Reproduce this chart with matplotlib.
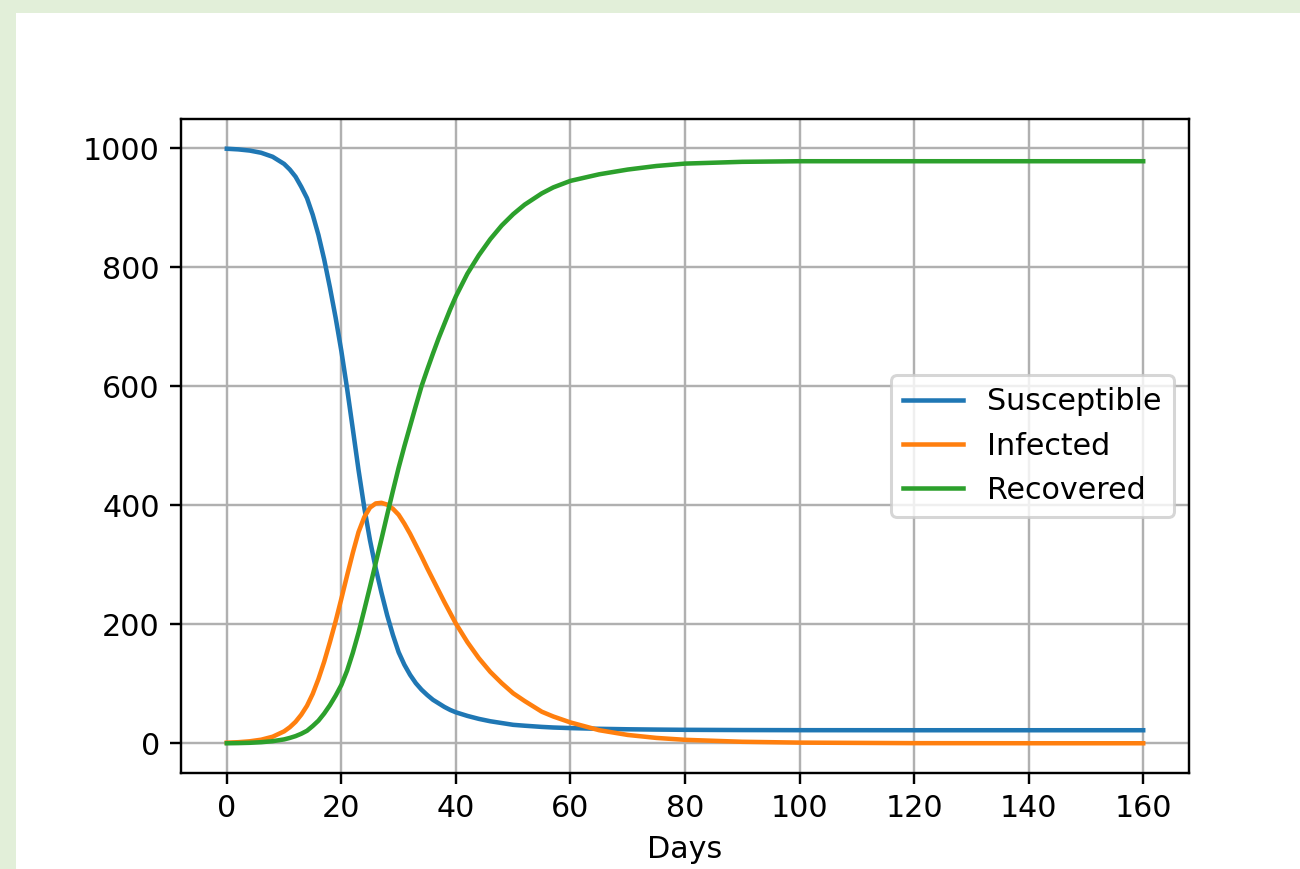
import matplotlib.pyplot as plt
import matplotlib.patches as patches

# Werte (Tage, Personen)
days = [0, 2, 4, 6, 8, 10, 11, 12, 13, 14, 15, 16, 17, 18, 19, 20, 21, 22, 23, 24,
        25, 26, 27, 28, 29, 30, 31, 32, 33, 34, 35, 36, 37, 38, 39, 40, 42, 44, 46,
        48, 50, 52, 55, 57, 60, 65, 70, 75, 80, 90, 100, 120, 140, 160]

susceptible = [999, 997.9, 995.9, 992.2, 985.5, 973.5, 964, 952, 935, 916, 888, 854,
               813, 766, 715, 659, 596, 528, 459, 396, 341, 294, 253, 215, 182, 153,
               132, 115, 101, 90, 81, 73, 67, 61, 56, 52, 46, 41, 37, 34, 31, 29.5,
               27.5, 26.5, 25.5, 24.3, 23.5, 23, 22.6, 22.2, 22, 21.9, 21.9, 21.9]

infected = [1, 1.8, 3.3, 6, 11, 20, 27, 36, 48, 63, 83, 108, 137, 170, 205, 243, 282,
            320, 355, 380, 396, 403, 404, 401, 394, 384, 369, 352, 333, 314, 294, 275,
            256, 237, 219, 201, 170, 143, 120, 101, 84, 71, 53, 45, 35, 22, 14, 9, 5.8,
            2.5, 1.1, 0.2, 0.05, 0.01]

recovered = [0, 0.3, 0.8, 1.8, 3.5, 6.5, 9, 12, 16, 21, 29, 38, 50, 64, 80, 98, 122,
             152, 186, 224, 263, 303, 343, 384, 424, 463, 499, 533, 567, 600, 628, 655,
             681, 705, 729, 751, 789, 820, 847, 870, 889, 905, 924, 934, 945, 956, 964,
             970, 974, 977, 978, 978, 978, 978]

# Figur so wie im Screenshot (1300x869 px)
fig = plt.figure(figsize=(6, 869 / (1300 / 6)), dpi=1300 / 6)
fig.patch.set_facecolor('#e2efd9')

# weisser Kasten hinter dem Plot (zorder < Axes)
fig.patches.append(patches.Rectangle((16 / 1300, 0), 1, 1 - 13 / 869,
                                     transform=fig.transFigure, facecolor='white',
                                     edgecolor='none', zorder=-5))

ax = fig.add_axes([181 / 1300, 1 - 773 / 869, 1008 / 1300, 654 / 869])

ax.plot(days, susceptible, label='Susceptible')
ax.plot(days, infected, label='Infected')
ax.plot(days, recovered, label='Recovered')

ax.set_xlabel('Days')
ax.grid(True)
ax.legend(loc='center right')

fig.savefig('out.png', dpi=1300 / 6, facecolor=fig.get_facecolor())
